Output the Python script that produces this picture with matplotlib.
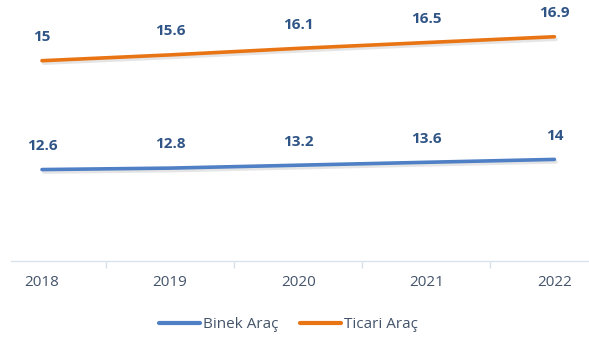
import numpy as np
import matplotlib
matplotlib.use("Agg")
import matplotlib.pyplot as plt
import matplotlib.patheffects as pe

# yearly values (stacked line chart)
years = ["2018", "2019", "2020", "2021", "2022"]
binek = [12.6, 12.8, 13.2, 13.6, 14]
ticari = [15, 15.6, 16.1, 16.5, 16.9]

blue = "#4F7FC4"
orange = "#E97414"
label_color = "#2F5486"
tick_color = "#44546A"

plt.rcParams["font.family"] = ["Open Sans", "DejaVu Sans"]

fig = plt.figure(figsize=(5.89, 3.42), dpi=100)
ax = fig.add_axes([11 / 589, 81 / 342, 578 / 589, 254 / 342])

x = np.arange(len(years))
stacked = [
    ("Binek Araç", np.array(binek), np.array(binek), blue),
    ("Ticari Araç", np.array(ticari), np.array(binek) + np.array(ticari), orange),
]

shadow = [pe.SimpleLineShadow(offset=(1.2, -1.8), shadow_color="gray", alpha=0.2), pe.Normal()]
for name, raw, top, color in stacked:
    ax.plot(x, top, color=color, lw=2.6, solid_capstyle="round", label=name,
            path_effects=shadow)
    for xi, yi, v in zip(x, top, raw):
        ax.annotate(f"{v:g}", (xi, yi), xytext=(0, 17), textcoords="offset points",
                    ha="center", va="center", fontsize=11, fontweight="bold",
                    color=label_color)

ax.set_xlim(-0.242, 4.27)
ax.set_ylim(0, 35)

for side in ["top", "right", "left"]:
    ax.spines[side].set_visible(False)
ax.spines["bottom"].set_color("#D9E1EC")
ax.spines["bottom"].set_linewidth(1)
ax.set_yticks([])

# tick marks sit between categories, labels on the categories
ax.set_xticks(x[:-1] + 0.5)
ax.set_xticklabels([])
ax.tick_params(axis="x", length=5, color="#D9E1EC", width=1)
for xi, yr in zip(x, years):
    ax.text(xi, -3.0, yr, ha="center", va="center", fontsize=11, color=tick_color,
            transform=ax.transData)

leg = fig.legend(loc="center", bbox_to_anchor=(0.49, 1 - 325 / 342), ncol=2, frameon=False,
                 fontsize=11, handlelength=2.7, handletextpad=0.2, columnspacing=1.4)
for t in leg.get_texts():
    t.set_color(tick_color)
for h in leg.get_lines():
    h.set_linewidth(3)
    h.set_path_effects([])

fig.savefig("out.png", dpi=100)
